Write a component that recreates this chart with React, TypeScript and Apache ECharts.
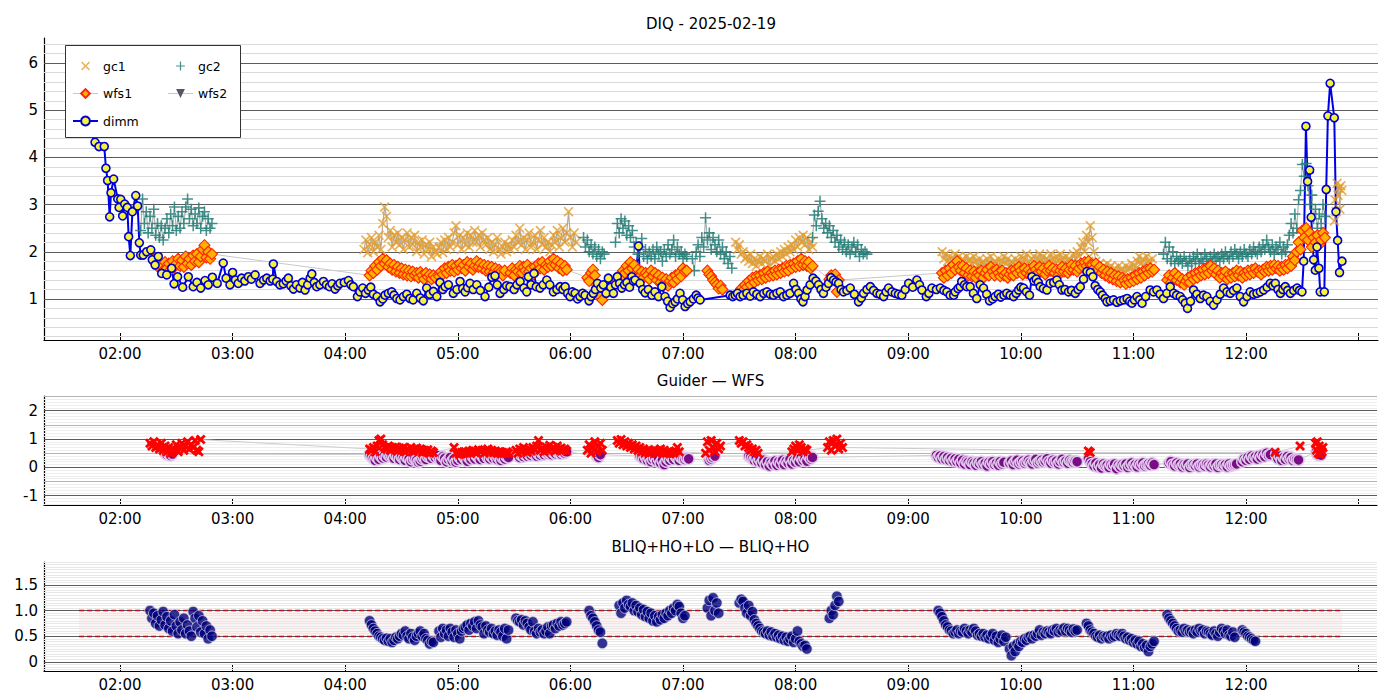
import React, { useEffect, useRef } from "react";
import * as echarts from "echarts";

// Times are minutes after 00:00 UT. Segments hold evenly sampled readings.
type Seg = { start: number; step: number; values: number[] };

const hourLabels = [120, 180, 240, 300, 360, 420, 480, 540, 600, 660, 720];
const hourTicks = [120, 180, 240, 300, 360, 420, 480, 540, 600, 660, 720, 780];
const topYLabels = [1, 2, 3, 4, 5, 6];
const midYLabels = [-1, 0, 1, 2];
const botYLabels = [0, 0.5, 1.0, 1.5];

const dimm: [number, number][] = [
  [98.2,5.1],[101,4.8],[104,4.55],[106.7,4.32],[108.8,4.23],[111.6,4.23],[112.5,3.77],[113.4,3.51],[114.5,2.74],[115.2,3.25],
  [116.6,3.54],[118.8,3.12],[119.5,2.94],[120.4,3.11],[121.4,2.76],[122.5,3.01],[123.9,2.94],[124.6,2.32],[125.5,1.92],[126.6,2.85],
  [128.4,3.19],[129.4,2.97],[130.3,2.19],[131,1.93],[132.4,1.93],[134.2,2.0],[136.4,2.04],[137.2,1.83],[138.7,1.72],[140.4,1.9],
  [142.2,1.54],[144.9,1.51],[147.5,1.65],[148.8,1.32],[150.7,1.47],[153.4,1.25],[156.4,1.47],[159,1.26],[161,1.35],[163,1.23],
  [165.3,1.39],[167,1.3],[169.2,1.46],[171.8,1.33],[175,1.76],[176.5,1.44],[178.6,1.3],[180,1.56],[181.5,1.4],[183,1.33],
  [184.8,1.44],[186.5,1.38],[188.4,1.47],[190,1.42],[192,1.51],[194.6,1.33],[196.5,1.4],[198.2,1.44],[200,1.38],[201.4,1.42],
  [201.7,1.74],[203.5,1.37],[205.2,1.3],[207,1.32],[208.5,1.38],[209.7,1.44],[211,1.28],[212.4,1.21],[214,1.3],[215.9,1.23],
  [217.2,1.35],[218.6,1.19],[220,1.3],[221.3,1.44],[222.2,1.53],[223.5,1.35],[224.8,1.26],[226.5,1.3],[228.4,1.37],[230,1.3],
  [231.6,1.26],[233,1.32],[234.6,1.21],[236,1.28],[237.2,1.33],[239.5,1.35],[241.7,1.39],[243,1.3],[244.3,1.26],[246.5,1.05],
  [247.8,1.15],[249.3,1.23],[250.8,1.12],[252.3,1.19],[253.6,1.25],[255,1.1],[257,1.05],[258.6,0.94],[260,1.0],[261.2,1.08],
  [263,1.12],[264.8,1.15],[266,1.08],[267.5,1.01],[269.2,0.98],[271,1.05],[272.8,1.1],[274.5,1.01],[276.2,0.98],[278.1,1.12],
  [280,1.02],[281.6,0.96],[283.4,1.23],[285,1.1],[287,1.16],[288.8,1.05],[290.5,1.35],[292,1.2],[293.2,1.26],[295,1.3],
  [297.6,1.12],[299.5,1.2],[301.2,1.37],[302.6,1.22],[303.9,1.15],[305.2,1.24],[306.5,1.33],[308.2,1.2],[310.1,1.3],[312,1.18],
  [314.5,1.05],[316.5,1.25],[318.1,1.46],[319.8,1.49],[321,1.3],[322.5,1.12],[324.5,1.2],[326,1.28],[327.8,1.26],[330,1.2],
  [331.5,1.3],[333.2,1.37],[335.2,1.23],[336.7,1.15],[337.6,1.47],[339,1.3],[340.6,1.54],[341.8,1.26],[343.8,1.23],[345.5,1.3],
  [347.4,1.4],[349,1.3],[350.9,1.15],[352.8,1.2],[354.5,1.26],[356,1.2],[357.2,1.26],[358.5,1.12],[359.8,1.05],[361,1.15],
  [362.5,1.12],[363.8,1.0],[365.1,1.05],[366.5,1.12],[367.8,1.08],[369.9,0.96],[371,1.05],[372.2,1.12],[373.3,1.2],[374.4,1.33],
  [376.2,1.23],[377.5,1.3],[379,1.12],[380.2,1.44],[381.5,1.25],[382.9,1.12],[384,1.3],[385,1.47],[386.2,1.33],[387.4,1.23],
  [388.8,1.3],[390.1,1.35],[391.5,1.25],[392.7,1.47],[393.6,1.38],[394.5,1.4],[396.3,2.12],[397.1,1.33],[398.5,1.2],[399.8,1.13],
  [401.5,1.2],[403.4,1.08],[405,1.15],[406.9,1.05],[408.7,1.26],[410.4,1.05],[411.8,0.95],[413.1,0.82],[414.5,0.9],[415.8,0.94],
  [417,1.0],[418.4,1.12],[419.8,0.98],[421.1,0.84],[422.5,0.9],[423.8,0.94],[425.5,1.0],[427,1.08],[428,1.02],[429.1,0.98],
  [445.1,1.08],[446.5,1.05],[447.8,1.08],[449,1.12],[450.4,1.05],[452,1.08],[454,1.12],[455.8,1.06],[457.5,1.15],[459.3,1.1],
  [461.1,1.05],[463,1.12],[464.7,1.15],[466.5,1.1],[468.2,1.08],[470,1.12],[471.8,1.15],[473.5,1.05],[475.3,1.08],[477,1.12],
  [478.9,1.33],[480.2,1.2],[481.6,1.12],[482.8,1.0],[483.9,0.94],[485,1.05],[486.1,1.19],[487.7,1.3],[489.3,1.44],[490.8,1.38],
  [492.2,1.3],[493.5,1.2],[494.8,1.12],[496.2,1.25],[497.5,1.33],[498.8,1.45],[500.2,1.4],[501.5,1.36],[502.9,1.33],[504.2,1.2],
  [505.5,1.15],[507.3,1.18],[509.1,1.23],[511.3,1.1],[513.5,0.94],[515,1.02],[516.2,1.12],[518,1.2],[519.8,1.26],[521.5,1.18],
  [523.3,1.12],[525,1.1],[526.9,1.05],[528.2,1.15],[529.5,1.23],[531.3,1.15],[533.1,1.12],[534.8,1.1],[536.6,1.08],[538.4,1.2],
  [540.2,1.33],[542.4,1.25],[544.6,1.4],[546,1.3],[547.3,1.19],[549.6,1.05],[551,1.12],[552.6,1.23],[555,1.2],[557.1,1.23],
  [559,1.18],[560.6,1.15],[562.3,1.08],[564.2,1.08],[565,1.15],[566.5,1.22],[567.7,1.26],[568.5,1.37],[570,1.3],[571.2,1.26],
  [573,1.26],[574.7,1.12],[576.5,1.01],[578.3,1.3],[580.1,1.23],[581.8,1.1],[583.3,0.96],[585,1.0],[586.3,1.05],[588,1.1],
  [589.3,1.04],[591,1.08],[592.5,1.12],[594.3,1.08],[596.1,1.05],[597.5,1.12],[598.8,1.19],[600,1.25],[601.4,1.23],[603,1.15],
  [604.6,1.08],[605.9,1.47],[607,1.38],[608.2,1.42],[609.3,1.35],[610.3,1.26],[612,1.22],[613.9,1.19],[615.6,1.33],[617.5,1.35],
  [619.2,1.4],[620.5,1.3],[621.9,1.19],[623.5,1.2],[625.4,1.15],[627,1.18],[629,1.12],[630.5,1.2],[631.7,1.26],[633.4,1.42],
  [635.2,1.58],[637,1.56],[638.4,1.47],[639.6,1.28],[641,1.2],[642.3,1.15],[643.5,1.08],[645,1.01],[645.9,0.94],[647.6,0.96],
  [649.4,0.98],[651.2,0.93],[653,0.96],[654.8,0.98],[656.6,1.01],[658,0.95],[659.2,0.91],[660.5,0.98],[661.9,1.05],[663.3,0.98],
  [664.6,0.91],[666.5,1.05],[668.9,1.19],[670.7,1.15],[672.5,1.19],[674.2,1.1],[676,1.01],[677.8,1.12],[679.6,1.26],[681.4,1.12],
  [683,1.08],[684.9,1.05],[686.2,0.98],[687.6,0.91],[688.8,0.8],[690.4,0.95],[692,1.19],[693.8,1.1],[695.6,1.01],[697.3,1.08],
  [699.1,1.05],[700.9,0.95],[702.7,0.87],[704.5,0.98],[706.2,1.1],[708,1.23],[709.8,1.15],[711.6,1.12],[713.3,1.18],[715.1,1.23],
  [716.9,1.05],[718.7,0.94],[720.5,1.05],[722.2,1.15],[724,1.1],[725.8,1.12],[727.6,1.15],[729.4,1.19],[731.2,1.25],[732.9,1.33],
  [734.3,1.28],[735.6,1.33],[737,1.2],[738.3,1.12],[739.6,1.2],[740.9,1.26],[742.2,1.18],[743.6,1.12],[745.4,1.18],[747.2,1.23],
  [748.5,1.18],[749.8,1.15],[750.7,1.8],[751.9,4.66],[752.8,3.49],[753.9,3.73],[754.7,2.73],[756,1.83],[756.9,1.61],[757.8,2.1],
  [758.8,1.65],[759.5,1.15],[761.7,1.15],[762.7,3.32],[763.6,4.88],[764.8,5.57],[767,4.84],[767.9,2.85],[768.8,2.24],[769.8,1.56],
  [771.1,1.8],
];

const gc1Segments: Seg[] = [
  { start: 250, step: 1, values: [
    2.05,2.25,1.98,2.15,2.3,2.0,2.2,2.1,2.35,2.05,
    2.6,2.95,2.75,2.3,2.45,2.1,2.35,2.2,2.4,2.15,
    2.3,2.05,2.25,2.4,2.1,2.3,2.15,2.35,2.0,2.2,
    2.1,2.25,1.95,2.15,2.05,2.2,1.9,2.1,2.0,1.95,
    2.1,2.2,1.98,2.25,2.05,2.3,2.1,2.2,2.4,2.55,
    2.15,2.35,2.05,2.3,2.15,2.4,2.1,2.35,2.2,2.45,
    2.2,2.35,2.1,2.4,2.25,2.15,2.3,2.05,2.2,2.0,
    2.15,2.3,2.05,1.95,2.1,2.2,2.0,2.15,2.05,2.25,
    2.1,2.35,2.2,2.5,2.15,2.3,2.05,2.25,2.4,2.1,
    2.2,2.35,2.05,2.25,2.45,2.15,2.3,2.1,2.2,2.0,
    2.15,2.35,2.2,2.45,2.1,2.3,2.5,2.2,2.4,2.85,
    2.3,2.1,2.4,2.2] },
  { start: 448, step: 1, values: [
    2.2,2.05,2.15,1.95,2.0,1.85,1.9,1.8,1.95,1.75,
    1.85,1.7,1.8,1.9,1.75,1.85,1.8,1.95,1.7,1.85,
    1.9,1.8,1.95,1.85,2.0,1.9,2.05,1.95,2.1,2.0,
    2.15,2.05,2.25,2.1,2.3,2.2,2.35,2.15,2.3,2.05,2.2,2.1] },
  { start: 558, step: 1, values: [
    2.0,1.85,1.95,1.8,1.9,1.75,1.85,1.95,1.8,1.9,
    1.75,1.85,1.7,1.9,1.8,1.85,1.75,1.9,1.8,1.7,
    1.85,1.75,1.8,1.7,1.85,1.75,1.9,1.7,1.8,1.75,
    1.85,1.7,1.8,1.9,1.75,1.85,1.7,1.8,1.75,1.85,
    1.7,1.8,1.9,1.75,1.85,1.95,1.8,1.7,1.85,1.9,
    1.75,1.85,1.95,1.8,1.9,1.75,1.85,1.8,1.95,1.85,
    1.75,1.9,1.8,1.95,1.85,1.75,1.9,1.8,1.85,1.75,
    1.95,1.85,2.0,1.9,2.1,2.2,2.0,2.35,2.2,2.55,
    2.3,2.0,1.8,1.7,1.75,1.65,1.7,1.6,1.75,1.65,
    1.7,1.6,1.65,1.55,1.7,1.6,1.65,1.55,1.7,1.6,
    1.65,1.75,1.6,1.7,1.8,1.9,1.75,1.85,1.7,1.9,
    1.8,1.75,1.85] },
  { start: 767, step: 0.5, values: [2.65,3.1,2.85,3.45,3.2,3.35,2.9,3.4,3.3] },
];

const gc2Segments: Seg[] = [
  { start: 131, step: 1, values: [
    2.45,3.12,2.6,2.85,2.4,2.75,2.5,2.9,2.35,2.6,
    2.3,2.55,2.25,2.5,2.7,2.4,2.8,2.55,2.95,2.45,
    2.75,2.5,2.85,2.6,2.95,3.12,2.7,2.9,2.55,2.8,
    2.6,2.93,2.5,2.75,2.85,2.45,2.7,2.5,2.6] },
  { start: 367, step: 1, values: [2.3,2.1,2.25,2.0,2.15,1.95,2.1,1.9,2.05,1.85,2.0,1.95] },
  { start: 384, step: 1, values: [
    2.2,2.6,2.4,2.7,2.5,2.65,2.35,2.55,2.3,2.45,
    2.1,2.2,1.95,2.1,2.28,1.9,2.05,1.85,2.0,1.9,
    2.05,1.85,2.1,1.95,2.0,1.8,2.05,1.9,2.15,1.95,
    2.05,2.25,1.9,2.1,1.95,2.0,1.85,1.95,1.9] },
  { start: 425, step: 1, values: [1.85,1.6,2.0,2.15,1.9,2.3,2.1,2.72,2.25,2.4,2.05,2.3,2.15,2.0,2.25,1.95,2.1,1.85,2.0,1.75,1.9,1.65] },
  { start: 489, step: 1, values: [
    2.3,2.78,2.55,2.86,3.07,2.7,2.5,2.6,2.4,2.55,
    2.3,2.45,2.2,2.35,2.1,2.25,2.05,2.2,2.0,2.15,
    1.95,2.1,2.2,2.0,2.15,1.9,2.05,1.95,2.0,1.95] },
  { start: 676, step: 1, values: [
    1.95,2.2,1.85,2.1,1.8,2.0,1.75,1.9,1.8,1.85,
    1.75,1.9,1.8,1.7,1.85,1.75,1.9,1.8,1.95,1.75,
    1.85,1.8,1.95,1.85,1.75,1.9,1.8,1.95,1.85,1.9,
    1.8,1.95,1.85,2.0,1.9,1.85,2.0,1.9,2.05,1.95,
    1.85,2.0,1.9,2.05,1.95,1.9,2.05,1.95,2.1,2.0,
    1.95,2.1,2.0,2.15,2.05,2.25,2.1,2.0,2.15,1.95,
    2.1,2.05,2.2,1.95,2.1,2.0,2.15,2.35,2.6,2.4,
    2.8,2.5,3.1,3.3,3.85,3.6,3.87,3.4,3.0,3.2,
    2.7,2.9,2.5,2.8,2.6,3.0,2.75] },
];

const wfs1Segments: Seg[] = [
  { start: 138, step: 1, values: [
    1.85,1.75,1.8,1.65,1.72,1.6,1.78,1.65,1.75,1.62,
    1.8,1.68,1.75,1.85,1.7,1.82,1.68,1.9,1.75,1.85,
    1.72,1.92,1.8,1.95,1.78,1.9,2.05,2.14,1.88,2.0,
    1.85,1.95] },
  { start: 253, step: 1, values: [
    1.5,1.6,1.55,1.7,1.62,1.78,1.7,1.85,1.75,1.82,
    1.68,1.75,1.62,1.72,1.58,1.68,1.55,1.65,1.52,1.62,
    1.5,1.6,1.48,1.58,1.5,1.55,1.45,1.57,1.5,1.42,
    1.55,1.47,1.52,1.42,1.5,1.45] },
  { start: 290, step: 1, values: [
    1.48,1.58,1.52,1.65,1.55,1.68,1.6,1.72,1.58,1.7,
    1.62,1.75,1.65,1.72,1.6,1.78,1.68,1.75,1.62,1.7,
    1.8,1.68,1.75,1.65,1.72,1.6,1.7,1.58,1.68,1.55,
    1.65,1.52,1.62,1.58,1.5,1.6] },
  { start: 328, step: 1, values: [
    1.55,1.65,1.5,1.62,1.58,1.7,1.55,1.68,1.6,1.72,
    1.58,1.65,1.52,1.68,1.6,1.75,1.65,1.78,1.62,1.72,
    1.68,1.8,1.7,1.85,1.72,1.8,1.65,1.75,1.6,1.7,
    1.62] },
  { start: 369, step: 1, values: [1.45,1.38,1.55,1.62,1.5,1.3,1.15,1.05,0.98] },
  { start: 385, step: 1, values: [
    1.4,1.5,1.45,1.6,1.55,1.7,1.6,1.78,1.65,1.72,
    1.55,1.62,1.48,1.58,1.45,1.55,1.5,1.42,1.6,1.48,
    1.55,1.4,1.5,1.35,1.45,1.3,1.42,1.28,1.38,1.45,
    1.35,1.5,1.42,1.55,1.48,1.65,1.58,1.6] },
  { start: 433, step: 1, values: [1.6,1.52,1.48,1.4,1.35,1.3,1.22,1.28,1.2] },
  { start: 450, step: 1, values: [
    1.15,1.22,1.18,1.3,1.25,1.38,1.3,1.45,1.35,1.48,
    1.4,1.5,1.42,1.55,1.45,1.58,1.48,1.55,1.5,1.6,
    1.52,1.62,1.55,1.65,1.58,1.7,1.6,1.72,1.65,1.75,
    1.68,1.8,1.7,1.85,1.72,1.8,1.7,1.78,1.65,1.7] },
  { start: 498, step: 1, values: [1.42,1.5,1.45,1.52,1.15,1.4] },
  { start: 558, step: 1, values: [
    1.55,1.45,1.6,1.5,1.65,1.55,1.72,1.62,1.8,1.68,
    1.6,1.7,1.55,1.65,1.5,1.6,1.48,1.58,1.45,1.55,
    1.5,1.6,1.45,1.55,1.62,1.5,1.68,1.58,1.5,1.62,
    1.55,1.48,1.6,1.5,1.55,1.45,1.52,1.6,1.5,1.62,
    1.55,1.68,1.6,1.52,1.65,1.55,1.62,1.5,1.58,1.7,
    1.62,1.55,1.68,1.58,1.65,1.52,1.6,1.7,1.6,1.65,
    1.55,1.62,1.5,1.6,1.68,1.58,1.65,1.55,1.62,1.72,
    1.62,1.7,1.58,1.65,1.75,1.68,1.78,1.7,1.8,1.72] },
  { start: 638, step: 1, values: [
    1.72,1.65,1.75,1.62,1.68,1.55,1.62,1.5,1.58,1.45,
    1.55,1.42,1.5,1.38,1.48,1.35,1.45,1.4,1.32,1.42,
    1.35,1.45,1.38,1.5,1.42,1.55,1.45,1.58,1.5,1.62,
    1.55,1.65,1.58,1.62] },
  { start: 678, step: 1, values: [
    1.4,1.5,1.35,1.45,1.55,1.4,1.48,1.35,1.42,1.3,
    1.38,1.45,1.35,1.5,1.42,1.55,1.45,1.58,1.5,1.62,
    1.52,1.65,1.55,1.7,1.6,1.65,1.52,1.6,1.45,1.55,
    1.48,1.58,1.42,1.52,1.45,1.55,1.48,1.6,1.5,1.58,
    1.45,1.55,1.5,1.6,1.52,1.62,1.55,1.65,1.58,1.6,
    1.52,1.62,1.58,1.68,1.6,1.7,1.62,1.72,1.65,1.7,
    1.6,1.68,1.62,1.72,1.65,1.75,1.7,1.9,1.82,2.0,
    2.2,2.05,2.45,2.3,2.5,2.25,2.4,2.1,2.3,2.2,
    2.35,2.15,2.25,2.4,2.3] },
];

const guiderSegments: Seg[] = [
  { start: 136, step: 1, values: [
    0.85,0.75,0.9,0.7,0.8,0.65,0.85,0.6,0.75,0.55,
    0.7,0.5,0.65,0.6,0.8,0.55,0.7,0.85,0.6,0.75,
    0.9,0.65,0.8,0.7,0.95,0.6,0.55,0.98] },
  { start: 253, step: 1, values: [
    0.65,0.6,0.7,0.55,0.75,0.95,1.0,0.8,0.7,0.65,
    0.75,0.6,0.7,0.65,0.72,0.58,0.68,0.62,0.7,0.55,
    0.65,0.6,0.7,0.55,0.62,0.68,0.58,0.65,0.52,0.6,
    0.55,0.62,0.5,0.58,0.52] },
  { start: 298, step: 1, values: [
    0.7,0.5,0.55,0.45,0.52,0.48,0.55,0.5,0.58,0.52,
    0.6,0.55,0.5,0.62,0.55,0.6,0.5,0.58,0.65,0.55,
    0.6,0.52,0.58,0.5,0.55,0.48,0.52,0.5,0.55,0.5] },
  { start: 331, step: 1, values: [
    0.6,0.5,0.65,0.55,0.7,0.6,0.52,0.65,0.58,0.7,
    0.62,0.75,0.95,0.6,0.68,0.55,0.72,0.6,0.78,0.65,
    0.7,0.58,0.75,0.62,0.68,0.6,0.65,0.58] },
  { start: 369, step: 1, values: [0.6,0.8,0.5,0.7,0.9,0.55,0.75,0.85,0.6] },
  { start: 385, step: 1, values: [
    0.95,0.85,0.98,0.8,0.9,0.75,0.85,0.7,0.8,0.65,
    0.75,0.6,0.7,0.55,0.65,0.52,0.6,0.5,0.58,0.55,
    0.62,0.5,0.58,0.65,0.52,0.6,0.5,0.55,0.48,0.52,
    0.5,0.58,0.7,0.55] },
  { start: 432, step: 1, values: [0.5,0.9,0.6,0.95,0.7,0.55,0.85,0.65,0.75] },
  { start: 450, step: 1, values: [0.95,0.85,0.9,0.75,0.8,0.7,0.6,0.65,0.55,0.6,0.5] },
  { start: 478, step: 1, values: [0.55,0.65,0.75,0.6,0.8,0.7,0.55,0.65,0.6] },
  { start: 497, step: 1, values: [0.7,0.9,0.6,0.95,0.75,1.0,0.65,0.85,0.7] },
  { start: 636, step: 1, values: [0.58,0.52] },
  { start: 735.5, step: 1, values: [0.53] },
  { start: 748.8, step: 1, values: [0.75] },
  { start: 757, step: 0.5, values: [0.85,0.6,0.9,0.5,0.75,0.45,0.65,0.55,0.7] },
];

const wfsSegments: Seg[] = [
  { start: 144, step: 1, values: [0.5,0.45,0.48,0.42,0.47] },
  { start: 253, step: 1, values: [
    0.45,0.38,0.3,0.25,0.35,0.28,0.4,0.33,0.42,0.36,
    0.45,0.38,0.4,0.32,0.42,0.35,0.28,0.38,0.3,0.25,
    0.35,0.3,0.2,0.28,0.32,0.25,0.18,0.22,0.3,0.35,
    0.28,0.38,0.4,0.32,0.42] },
  { start: 288, step: 1, values: [
    0.35,0.42,0.3,0.25,0.38,0.32,0.2,0.28,0.35,0.22,
    0.3,0.18,0.25,0.35,0.28,0.4,0.3,0.22,0.35,0.28,
    0.38,0.3,0.42,0.35,0.28,0.4,0.32,0.45,0.35,0.3,
    0.38,0.32,0.4,0.28,0.35,0.25,0.33,0.3,0.38,0.35] },
  { start: 333, step: 1, values: [
    0.35,0.42,0.38,0.45,0.4,0.48,0.42,0.5,0.45,0.4,
    0.48,0.43,0.5,0.45,0.52,0.47,0.5,0.45,0.52,0.48,
    0.55,0.5,0.47,0.52,0.5,0.55] },
  { start: 374, step: 1, values: [0.4,0.35,0.45] },
  { start: 397, step: 1, values: [
    0.4,0.35,0.3,0.38,0.25,0.32,0.2,0.28,0.35,0.22,
    0.3,0.15,0.25,0.1,0.2,0.3,0.25,0.35,0.28,0.4,
    0.32,0.25,0.35,0.3,0.28,0.33,0.3] },
  { start: 434, step: 1, values: [0.25,0.3,0.35,0.4] },
  { start: 455, step: 1, values: [
    0.4,0.35,0.3,0.25,0.32,0.2,0.28,0.15,0.25,0.1,
    0.2,0.05,0.18,0.1,0.22,0.08,0.2,0.12,0.25,0.1,
    0.22,0.15,0.28,0.12,0.25,0.18,0.3,0.2,0.35,0.25,
    0.32,0.22,0.4,0.3,0.35] },
  { start: 555, step: 1, values: [
    0.42,0.35,0.4,0.3,0.38,0.28,0.35,0.25,0.32,0.22,
    0.3,0.2,0.28,0.15,0.25,0.12,0.22,0.18,0.1,0.2,
    0.15,0.08,0.18,0.12,0.2,0.1,0.15,0.05,0.18,0.12,
    0.2,0.1,0.15,0.08,0.2,0.12,0.18] },
  { start: 594, step: 1, values: [
    0.15,0.22,0.1,0.2,0.25,0.12,0.18,0.22,0.15,0.2,
    0.25,0.18,0.12,0.22,0.28,0.15,0.2,0.25,0.18,0.22,
    0.3,0.2,0.15,0.25,0.18,0.22,0.12,0.2,0.28,0.18,
    0.22,0.15,0.25,0.2,0.18,0.22,0.2] },
  { start: 636, step: 1, values: [
    0.3,0.2,0.12,0.05,0.15,0.02,0.1,-0.02,0.12,0.05,
    0.08,0.0,0.1,0.05,0.12,-0.05,0.08,0.02,0.1,0.05,
    0.12,0.0,0.08,0.15,0.05,0.1,0.02,0.12,0.08,0.15,
    0.05,0.1,0.12,0.08,0.15,0.1] },
  { start: 679, step: 1, values: [
    0.15,0.2,0.1,0.05,0.15,0.08,0.12,0.02,0.1,0.05,
    0.12,0.0,0.08,0.1,0.05,0.12,0.02,0.08,0.1,0.05,
    0.12,0.08,0.02,0.1,0.05,0.12,0.0,0.08,0.1,0.05,
    0.1,0.02,0.12,0.05,0.08,0.1,0.12] },
  { start: 718, step: 1, values: [0.2,0.3,0.25,0.35,0.28,0.4,0.32,0.38,0.3,0.42,0.35,0.45,0.38,0.5,0.42,0.45] },
  { start: 736, step: 1, values: [0.45,0.3,0.4,0.25,0.35,0.28,0.38,0.3,0.35,0.25,0.3,0.28,0.26] },
  { start: 757.5, step: 0.5, values: [0.55,0.45,0.5,0.42,0.48,0.43] },
];

const bliqSegments: Seg[] = [
  { start: 136, step: 1, values: [
    1.0,0.85,0.95,0.75,0.9,0.7,0.82,0.98,0.72,0.88,
    0.65,0.8,0.6,0.92,0.7,0.55,0.78,0.62,0.85,0.55,
    0.72,0.6,0.5,0.98,0.85,0.68,0.9,0.58,0.8,0.55,
    0.7,0.45,0.62,0.5] },
  { start: 253, step: 1, values: [
    0.8,0.72,0.65,0.6,0.55,0.5,0.48,0.45,0.42,0.46,
    0.4,0.45,0.38,0.42,0.48,0.45,0.5,0.55,0.52,0.6,
    0.5,0.45,0.55,0.48,0.42,0.5,0.55,0.6,0.5,0.55,
    0.45,0.42,0.35,0.4,0.38] },
  { start: 290, step: 1, values: [
    0.6,0.48,0.65,0.55,0.62,0.5,0.65,0.58,0.48,0.62,
    0.55,0.45,0.6,0.65,0.68,0.72,0.62,0.75,0.7,0.78,
    0.65,0.8,0.72,0.68,0.55,0.7,0.62,0.58,0.65,0.55,
    0.6,0.52,0.62,0.58,0.5,0.65,0.45,0.62] },
  { start: 331, step: 1, values: [
    0.85,0.8,0.78,0.82,0.72,0.8,0.75,0.68,0.62,0.78,
    0.6,0.55,0.65,0.58,0.62,0.55,0.6,0.68,0.55,0.7,
    0.72,0.65,0.75,0.7,0.78,0.72,0.75,0.78] },
  { start: 370, step: 1, values: [1.0,0.9,0.85,0.78,0.7,0.62,0.58,0.36] },
  { start: 386, step: 1, values: [
    1.1,0.95,1.15,1.05,1.2,1.12,1.08,1.15,1.0,1.1,
    0.98,1.05,0.92,1.02,0.88,0.98,0.85,0.95,0.8,0.9,
    0.78,0.88,0.82,0.92,0.85,0.95,0.9,1.0,0.95,1.05,
    1.0,1.12,1.08,0.95,0.85,0.9] },
  { start: 433, step: 1, values: [1.05,1.2,0.9,1.25,1.0,1.15,0.95] },
  { start: 450, step: 1, values: [
    1.15,1.22,1.18,1.05,0.95,1.1,0.9,0.98,0.82,0.75,
    0.7,0.65,0.6,0.58,0.55,0.6,0.52,0.58,0.5,0.55,
    0.48,0.52,0.45,0.5,0.42,0.48,0.4,0.45,0.5,0.38,
    0.45,0.6,0.4,0.35,0.3,0.32,0.25] },
  { start: 498, step: 1, values: [0.85,1.0,0.92,1.1,1.28,1.18] },
  { start: 556, step: 1, values: [
    1.0,0.95,0.88,0.8,0.72,0.68,0.62,0.6,0.55,0.58,
    0.62,0.55,0.6,0.58,0.65,0.6,0.55,0.62,0.58,0.65,
    0.6,0.52,0.55,0.5,0.55,0.48,0.52,0.45,0.5,0.55,
    0.42,0.5,0.38,0.45,0.52,0.4,0.48] },
  { start: 594, step: 1, values: [
    0.25,0.12,0.3,0.2,0.35,0.3,0.4,0.38,0.45,0.42,
    0.48,0.5,0.45,0.52,0.5,0.55,0.62,0.52,0.58,0.55,
    0.6,0.58,0.55,0.62,0.6,0.65,0.58,0.62,0.6,0.66,
    0.6,0.65,0.62,0.58,0.64,0.6,0.62] },
  { start: 635, step: 1, values: [
    0.75,0.7,0.62,0.58,0.55,0.5,0.48,0.52,0.45,0.5,
    0.48,0.5,0.45,0.52,0.48,0.5,0.55,0.52,0.5,0.55,
    0.5,0.45,0.48,0.42,0.45,0.38,0.42,0.35,0.4,0.3,
    0.35,0.28,0.32,0.2,0.3,0.35,0.4] },
  { start: 678, step: 1, values: [
    0.92,0.85,0.8,0.75,0.7,0.65,0.6,0.62,0.58,0.65,
    0.6,0.62,0.58,0.6,0.55,0.62,0.58,0.65,0.6,0.62,
    0.55,0.6,0.58,0.55,0.52,0.6,0.55,0.5,0.58,0.65,
    0.6,0.55,0.62,0.52,0.5,0.58,0.48] },
  { start: 718, step: 1, values: [0.62,0.58,0.55,0.5,0.48,0.45,0.42,0.4] },
];

const X_THIN = "path://M0,1.2L1.2,0L5,3.8L8.8,0L10,1.2L6.2,5L10,8.8L8.8,10L5,6.2L1.2,10L0,8.8L3.8,5Z";
const PLUS_THIN = "path://M4.3,0H5.7V4.3H10V5.7H5.7V10H4.3V5.7H0V4.3H4.3Z";
const X_FILLED = "path://M0,2L2,0L5,3L8,0L10,2L7,5L10,8L8,10L5,7L2,10L0,8L3,5Z";
const TRI_DOWN = "path://M0,0L10,0L5,8.66Z";
const FONT = "DejaVu Sans";

function expand(segs: Seg[], breakBetween: boolean): any[] {
  const out: any[] = [];
  segs.forEach((s, i) => {
    if (breakBetween && i > 0) out.push([s.start - 0.5, "-"]);
    s.values.forEach((v, k) => out.push([s.start + k * s.step, v]));
  });
  return out;
}

const fmtTime = (v: number) => {
  const h = Math.floor(v / 60);
  const m = Math.round(v - h * 60);
  return String(h).padStart(2, "0") + ":" + String(m).padStart(2, "0");
};

function levels(from: number, to: number, step: number, skipEvery: number) {
  const out: number[] = [];
  const n = Math.round((to - from) / step);
  for (let k = 0; k <= n; k++) {
    const v = Math.round((from + k * step) * 1000) / 1000;
    const r = v / skipEvery;
    if (Math.abs(r - Math.round(r)) < 1e-6) continue;
    out.push(v);
  }
  return out;
}

function gridMarkLines(major: number[], mid: number[], minor: number[], minorColor: string) {
  return [
    ...minor.map((v) => ({ yAxis: v, lineStyle: { color: minorColor, width: 1, type: "solid" } })),
    ...mid.map((v) => ({ yAxis: v, lineStyle: { color: "#b4b4b4", width: 1, type: "solid" } })),
    ...major.map((v) => ({ yAxis: v, lineStyle: { color: "#5c5c5c", width: 1, type: "solid" } })),
  ];
}

function buildOption() {
  const bandStart = dimm[0][0];
  const bandEnd = dimm[dimm.length - 1][0];

  const xAxis = (gi: number, max: number) => ({
    type: "value",
    gridIndex: gi,
    min: 79.5,
    max,
    axisLine: { show: true, onZero: false, lineStyle: { color: "#000", width: 1.2 } },
    axisTick: { show: true, inside: true, length: 7, customValues: hourTicks, lineStyle: { color: "#000", width: 1 } },
    axisLabel: { show: true, customValues: hourLabels, formatter: fmtTime, fontSize: 15, color: "#000", fontFamily: FONT, margin: 6 },
    splitLine: { show: false },
  });
  const yAxis = (gi: number, min: number, max: number, labels: number[], fmt: (v: number) => string) => ({
    type: "value",
    gridIndex: gi,
    min,
    max,
    axisLine: { show: true, onZero: false, lineStyle: { color: "#000", width: 1.2 } },
    axisTick: { show: false },
    axisLabel: { show: true, customValues: labels, formatter: fmt, fontSize: 15, color: "#000", fontFamily: FONT, margin: 6 },
    splitLine: { show: false },
  });

  const mlBase = { silent: true, symbol: ["none", "none"], label: { show: false }, z: 1, animation: false };

  const topGrid = gridMarkLines(topYLabels, [], levels(0.2, 6.4, 0.2, 1), "#d9d9d9");
  const midGrid = gridMarkLines(midYLabels, [-0.5, 0.5, 1.5, 2.5], levels(-1.3, 2.5, 0.1, 0.5), "#eeeeee");
  const botGrid = gridMarkLines(botYLabels, [], levels(-0.15, 1.95, 0.05, 0.5), "#e8e8e8");
  const dashStyle = { color: "#b0101a", type: [5, 3], width: 1.3 };
  const threshold = [0.5, 1.0].map((v) => [
    { coord: [bandStart, v], lineStyle: dashStyle },
    { coord: [bandEnd, v] },
  ]);

  const legendText = { fontSize: 12.5, color: "#000", fontFamily: FONT };
  const faint = { color: "#c8c8c8", width: 1 };

  return {
    animation: false,
    backgroundColor: "#fff",
    textStyle: { fontFamily: FONT },
    grid: [
      { left: 44, top: 38, width: 1334, height: 302 },
      { left: 44, top: 396, width: 1333, height: 109 },
      { left: 44, top: 562, width: 1333, height: 109 },
    ],
    xAxis: [xAxis(0, 790.3), xAxis(1, 789.8), xAxis(2, 789.8)],
    yAxis: [
      yAxis(0, 0.13, 6.53, topYLabels, (v) => String(v)),
      yAxis(1, -1.33, 2.52, midYLabels, (v) => String(v)),
      yAxis(2, -0.18, 1.95, botYLabels, (v) => (v === 0 ? "0" : v.toFixed(1))),
    ],
    legend: [
      {
        left: 72, top: 59.5, padding: 0, orient: "vertical", itemWidth: 25, itemHeight: 11, itemGap: 14.5, z: 110,
        textStyle: legendText, selectedMode: false,
        data: [
          { name: "gc1", lineStyle: { opacity: 0 } },
          { name: "wfs1", lineStyle: faint },
          { name: "dimm", lineStyle: { color: "#0000e6", width: 2 } },
        ],
      },
      {
        left: 167, top: 59.5, padding: 0, orient: "vertical", itemWidth: 25, itemHeight: 11, itemGap: 14.5, z: 110,
        textStyle: legendText, selectedMode: false,
        data: [
          { name: "gc2", lineStyle: { opacity: 0 } },
          { name: "wfs2", lineStyle: faint },
        ],
      },
    ],
    graphic: [
      { type: "rect", z: 100, shape: { x: 65.5, y: 45.5, width: 175, height: 92 }, style: { fill: "#fff", stroke: "#333", lineWidth: 1 } },
      { type: "text", x: 711, y: 24, style: { text: "DIQ - 2025-02-19", fill: "#000", fontSize: 15, fontFamily: FONT, align: "center", verticalAlign: "middle", textAlign: "center", textVerticalAlign: "middle" } },
      { type: "text", x: 710.5, y: 381, style: { text: "Guider — WFS", fill: "#000", fontSize: 15, fontFamily: FONT, align: "center", verticalAlign: "middle", textAlign: "center", textVerticalAlign: "middle" } },
      { type: "text", x: 710.5, y: 547, style: { text: "BLIQ+HO+LO — BLIQ+HO", fill: "#000", fontSize: 15, fontFamily: FONT, align: "center", verticalAlign: "middle", textAlign: "center", textVerticalAlign: "middle" } },
    ],
    series: [
      {
        name: "gc1", type: "line", xAxisIndex: 0, yAxisIndex: 0, data: expand(gc1Segments, true),
        symbol: X_THIN, symbolSize: 10, showAllSymbol: true, connectNulls: false,
        itemStyle: { color: "rgba(226,158,48,0.8)" }, lineStyle: { color: "#b0aaa0", width: 1.2 },
        markLine: { ...mlBase, data: topGrid },
      },
      {
        name: "gc2", type: "line", xAxisIndex: 0, yAxisIndex: 0, data: expand(gc2Segments, true),
        symbol: PLUS_THIN, symbolSize: 11, showAllSymbol: true, connectNulls: false,
        itemStyle: { color: "rgba(36,126,120,0.85)" }, lineStyle: { color: "#aab4b4", width: 1.2 },
      },
      {
        name: "wfs1", type: "line", xAxisIndex: 0, yAxisIndex: 0, data: expand(wfs1Segments, false),
        symbol: "diamond", symbolSize: 11, showAllSymbol: true,
        itemStyle: { color: "#ffb000", borderColor: "#ff2400", borderWidth: 1.1 }, lineStyle: faint,
      },
      {
        name: "wfs2", type: "line", xAxisIndex: 0, yAxisIndex: 0, data: [],
        symbol: TRI_DOWN, symbolSize: 9,
        itemStyle: { color: "#555566" }, lineStyle: faint,
      },
      {
        name: "dimm", type: "line", xAxisIndex: 0, yAxisIndex: 0, data: dimm, z: 3,
        symbol: "circle", symbolSize: 8, showAllSymbol: true,
        itemStyle: { color: "#f4f23c", borderColor: "#0000d0", borderWidth: 1.6 }, lineStyle: { color: "#0000e6", width: 2 },
      },
      {
        name: "WFS", type: "line", xAxisIndex: 1, yAxisIndex: 1, data: expand(wfsSegments, false),
        symbol: "circle", symbolSize: 11, showAllSymbol: true,
        itemStyle: { color: "#7a0c86", borderColor: "rgba(226,206,236,0.95)", borderWidth: 1.5 }, lineStyle: { color: "#cccccc", width: 1 },
        markLine: { ...mlBase, data: midGrid },
      },
      {
        name: "Guider", type: "line", xAxisIndex: 1, yAxisIndex: 1, data: expand(guiderSegments, false),
        symbol: X_FILLED, symbolSize: 10, showAllSymbol: true,
        itemStyle: { color: "#ff0000" }, lineStyle: { color: "#cccccc", width: 1 },
      },
      {
        name: "BLIQ", type: "scatter", xAxisIndex: 2, yAxisIndex: 2, data: expand(bliqSegments, false),
        symbol: "circle", symbolSize: 10.5,
        itemStyle: { color: "#00007a", borderColor: "rgba(210,210,228,0.9)", borderWidth: 1 },
        markLine: { ...mlBase, data: [...botGrid, ...threshold] },
        markArea: { silent: true, z: 1, itemStyle: { color: "rgba(240,60,60,0.07)" }, data: [[{ coord: [bandStart, 0.5] }, { coord: [bandEnd, 1.0] }]] },
      },
    ],
  };
}

export default function App() {
  const ref = useRef<HTMLDivElement>(null);
  useEffect(() => {
    if (!ref.current) return;
    const chart = echarts.init(ref.current, undefined, { renderer: "svg" });
    chart.setOption(buildOption() as any);
    return () => chart.dispose();
  }, []);
  return (
    <div
      ref={ref}
      style={{ position: "absolute", left: 0, top: 0, width: 1400, height: 700, background: "#fff" }}
    />
  );
}
